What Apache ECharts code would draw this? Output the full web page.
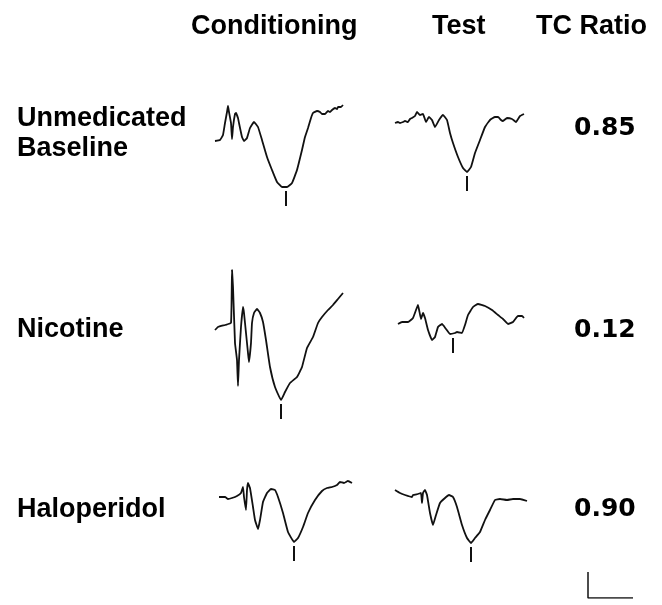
<!DOCTYPE html>
<html><head><meta charset="utf-8">
<script src="https://cdn.jsdelivr.net/npm/echarts@6/dist/echarts.min.js"></script>
<style>html,body{margin:0;padding:0;background:#fff}#c{width:662px;height:605px}</style>
</head><body><div id="c"></div>
<script>
// ---- data (time in ms, amplitude in µV-like units; positive up) ----
const columnLabels = ['Conditioning', 'Test', 'TC Ratio'];
const rowLabels = ['Unmedicated\nBaseline', 'Nicotine', 'Haloperidol'];
const tcRatios = ['0.85', '0.12', '0.90'];

const unmedCond = [[0,-1],[5,0],[8,5],[10,17],[12,28],[13,34],[14,28],[16,17],[17,1],[18,13],[20,26],[21,27],[23,22],[24,17],[27,3],[29,-1],[32,2],[35,12],[39,18],[43,13],[47,0],[52,-17],[57,-30],[62,-42],[67,-47],[72,-47],[77,-43],[82,-30],[87,-10],[90,3],[93,12],[96,22],[98,27],[102,29],[105,28],[107,26],[110,26],[113,29],[115,28],[117,30],[120,32],[122,31],[123,33],[126,33],[128,35]];
const unmedTest = [[0,-1],[3,0],[5,-1],[8,0],[10,1],[13,0],[15,3],[17,4],[20,6],[22,10],[25,7],[28,8],[31,0],[34,5],[37,2],[40,-5],[44,2],[48,7],[52,2],[55,-11],[58,-21],[63,-35],[68,-46],[72,-50],[76,-45],[80,-31],[85,-18],[90,-5],[95,2],[100,5],[103,5],[106,2],[108,1],[112,4],[117,3],[121,0],[125,6],[129,8]];
const nicCond = [[0,-5],[3,-2],[10,0],[16,2],[17,55],[18,38],[20,-18],[22,-35],[23,-61],[24,-35],[26,-2],[28,18],[29,12],[31,-8],[33,-28],[34,-37],[36,-18],[37,2],[39,12],[42,16],[45,12],[48,3],[51,-15],[55,-42],[60,-62],[66,-75],[70,-67],[75,-58],[82,-52],[87,-42],[92,-23],[98,-12],[103,2],[107,8],[113,15],[118,20],[123,26],[128,32]];
const nicTest = [[3,-2],[7,0],[13,0],[18,4],[21,12],[23,17],[26,3],[28,9],[30,4],[33,-8],[37,-18],[40,-15],[43,-5],[47,-2],[51,-7],[55,-12],[60,-11],[62,-10],[67,-11],[70,-3],[73,7],[78,15],[83,18],[90,16],[97,12],[103,7],[108,3],[113,-2],[118,0],[123,6],[127,6],[129,4]];
const haloCond = [[4,0],[10,0],[13,-2],[17,-1],[22,1],[26,4],[28,10],[29,0],[31,-13],[32,7],[33,14],[35,9],[38,-10],[40,-23],[43,-32],[45,-23],[48,-5],[52,4],[56,8],[60,7],[63,0],[68,-16],[73,-35],[79,-45],[83,-41],[88,-30],[93,-16],[100,-3],[107,6],[112,9],[117,10],[122,12],[125,15],[129,14],[133,16],[137,14]];
const haloTest = [[0,7],[5,4],[10,2],[17,0],[18,2],[23,3],[26,4],[27,-6],[28,4],[30,7],[32,2],[35,-16],[38,-28],[41,-18],[45,-6],[50,-1],[54,2],[58,0],[62,-10],[67,-28],[72,-41],[76,-46],[80,-41],[85,-35],[90,-23],[95,-13],[100,-3],[105,-2],[112,-3],[118,-2],[125,-2],[132,-4]];

// peak latencies (ms) marked with a tick
const peakLatency = [[71, 72], [66, 58], [79, 76]];
// calibration bar: 50 ms x 25 µV
const scaleBar = [[0, 25], [0, 0], [50, 0]];

const waves = [[unmedCond, unmedTest], [nicCond, nicTest], [haloCond, haloTest]];

// ---- layout ----
const colLeft = [215, 395];
const panelBase = [[140, 122], [325, 322], [497, 497]];
const labelFont = 'bold 27px "Liberation Sans", Arial, sans-serif';
const numFont = 'bold 25px "DejaVu Sans", sans-serif';

const grid = [], xAxis = [], yAxis = [], series = [];
let gi = 0;
for (let r = 0; r < 3; r++) {
  for (let c = 0; c < 2; c++) {
    grid.push({left: colLeft[c], top: panelBase[r][c] - 100, width: 150, height: 200});
    xAxis.push({type: 'value', gridIndex: gi, min: 0, max: 150, show: false});
    yAxis.push({type: 'value', gridIndex: gi, min: -100, max: 100, show: false});
    const w = waves[r][c];
    series.push({type: 'line', xAxisIndex: gi, yAxisIndex: gi, data: w, symbol: 'none',
      lineStyle: {color: '#111', width: 1.8}, smooth: 0.1, animation: false});
    const lat = peakLatency[r][c];
    let trough = Infinity;
    w.forEach(p => { if (Math.abs(p[0] - lat) <= 3) trough = Math.min(trough, p[1]); });
    series.push({type: 'line', xAxisIndex: gi, yAxisIndex: gi,
      data: [[lat, trough - 4], [lat, trough - 19]], symbol: 'none',
      lineStyle: {color: '#111', width: 2}, animation: false});
    gi++;
  }
}
// calibration bar grid
grid.push({left: 588, top: 572, width: 45, height: 26});
xAxis.push({type: 'value', gridIndex: gi, min: 0, max: 50, show: false});
yAxis.push({type: 'value', gridIndex: gi, min: 0, max: 25, show: false});
series.push({type: 'line', xAxisIndex: gi, yAxisIndex: gi, data: scaleBar, symbol: 'none',
  lineStyle: {color: '#111', width: 1.5}, animation: false});

const headerX = [191, 432, 536];
const labelY = [133.5, 329.5, 509.5];
const numY = [128.5, 330.5, 509.5];
const graphic = [];
columnLabels.forEach((t, i) => graphic.push({type: 'text', left: headerX[i], top: 13,
  style: {text: t, font: labelFont, fill: '#000'}}));
rowLabels.forEach((t, i) => graphic.push({type: 'text', x: 17, y: labelY[i],
  style: {text: t, font: labelFont, fill: '#000', lineHeight: 30, textVerticalAlign: 'middle', verticalAlign: 'middle'}}));
tcRatios.forEach((t, i) => graphic.push({type: 'text', x: 574, y: numY[i],
  style: {text: t, font: numFont, fill: '#000', textVerticalAlign: 'middle', verticalAlign: 'middle'}}));

const chart = echarts.init(document.getElementById('c'), null, {renderer: 'canvas'});
chart.setOption({animation: false, backgroundColor: '#fff', grid, xAxis, yAxis, series, graphic});
</script></body></html>
